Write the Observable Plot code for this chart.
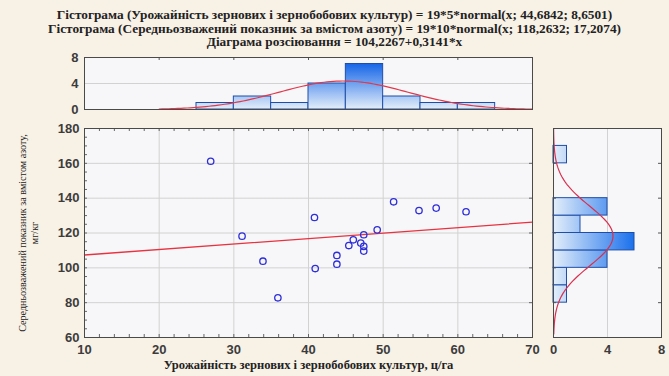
<!DOCTYPE html>
<html><head><meta charset="utf-8">
<script src="https://cdn.jsdelivr.net/npm/d3@7"></script>
<script src="https://cdn.jsdelivr.net/npm/@observablehq/plot@0.6"></script>
<style>
html,body{margin:0;padding:0;background:#f8f1e6;}
#root{position:relative;width:669px;height:376px;overflow:hidden;background:#f8f1e6;}
.t{position:absolute;left:0;width:669px;text-align:center;font-family:"Liberation Serif",serif;font-weight:bold;color:#222;white-space:nowrap;}
.p{position:absolute;}
.p svg{background:transparent;}
</style></head><body><div id="root"></div>
<script>
// ---- text ----
const titleLines = [
  "Гістограма (Урожайність зернових і зернобобових культур) = 19*5*normal(x; 44,6842; 8,6501)",
  "Гістограма (Середньозважений показник за вмістом азоту) = 19*10*normal(x; 118,2632; 17,2074)",
  "Діаграма розсіювання = 104,2267+0,3141*x"
];
const xLabel = "Урожайність зернових і зернобобових культур, ц/га";
const yLabelLines = ["Середньозважений показник за вмістом азоту,", "мг/кг"];

// ---- scatter data ----
const yieldX    = [26.9, 31.1, 33.9, 35.9, 40.8, 40.9, 43.8, 43.8, 45.4, 46.0, 47.0, 47.4, 47.4, 47.4, 49.2, 51.4, 54.8, 57.1, 61.1];
const nitrogenY = [161.2, 118.2, 103.8, 82.8, 128.9, 99.6, 107.1, 102.1, 112.8, 116.1, 114.2, 119.0, 112.3, 109.6, 121.8, 137.9, 132.9, 134.3, 132.2];

// ---- histogram of yield ----
const yieldBinLo  = [25, 30, 35, 40, 45, 50, 55, 60];
const yieldBinHi  = [30, 35, 40, 45, 50, 55, 60, 65];
const yieldCounts = [1, 2, 1, 4, 7, 2, 1, 1];

// ---- histogram of nitrogen ----
const nitroBinLo  = [80, 90, 100, 110, 120, 130, 160];
const nitroBinHi  = [90, 100, 110, 120, 130, 140, 170];
const nitroCounts = [1, 1, 4, 6, 2, 4, 1];

// ---- fitted parameters (from titles) ----
const yieldNormal = {n: 19, w: 5, mu: 44.6842, sd: 8.6501, from: 20, to: 70};
const nitroNormal = {n: 19, w: 10, mu: 118.2632, sd: 17.2074, from: 62, to: 180};
const regression = {a: 104.2267, b: 0.3141};

// ---- ticks ----
const xTicks = [10, 20, 30, 40, 50, 60, 70];
const yTicks = [60, 80, 100, 120, 140, 160, 180];
const countTicks = [0, 4, 8];

function normalCurve(p) {
  const pts = [];
  for (let v = p.from; v <= p.to + 1e-9; v += (p.to - p.from) / 120) {
    const z = (v - p.mu) / p.sd;
    pts.push({v, d: p.n * p.w * Math.exp(-0.5 * z * z) / (p.sd * Math.sqrt(2 * Math.PI))});
  }
  return pts;
}

const ctx = document.createElement("canvas").getContext("2d");
function fitSize(text, weight, family, target) {
  ctx.font = `${weight} 100px ${family}`;
  return 100 * target / ctx.measureText(text).width;
}
const serif = '"Liberation Serif", serif';
const titleSize = fitSize(titleLines[0], "bold", serif, 556);
const xLabelSize = fitSize(xLabel, "bold", serif, 290);
const yLabelSize = fitSize(yLabelLines[0], "normal", serif, 198);

const root = document.getElementById("root");
const titleCenters = [15, 28.5, 42];
titleLines.forEach((t, i) => {
  const d = document.createElement("div");
  d.className = "t";
  d.style.fontSize = titleSize + "px";
  d.style.lineHeight = titleSize + "px";
  d.style.top = (titleCenters[i] - titleSize / 2) + "px";
  d.textContent = t;
  root.appendChild(d);
});

function place(svg, left, top) {
  const w = document.createElement("div");
  w.className = "p"; w.style.left = left + "px"; w.style.top = top + "px";
  w.appendChild(svg); root.appendChild(w);
}
function addGrad(svg, id, x1, y1, x2, y2, c1, c2) {
  const defs = d3.select(svg).insert("defs", ":first-child");
  const g = defs.append("linearGradient").attr("id", id).attr("gradientUnits", "userSpaceOnUse")
    .attr("x1", x1).attr("y1", y1).attr("x2", x2).attr("y2", y2);
  g.append("stop").attr("offset", 0).attr("stop-color", c1);
  g.append("stop").attr("offset", 1).attr("stop-color", c2);
}

const frameFill = "#f7f7f9", frameStroke = "#4a4a4a", gridColor = "#d2d2d2";
const tickFont = {fontFamily: "Liberation Sans, Arial, sans-serif", fontSize: "13px", fontWeight: "bold", color: "#3c3c3c", background: "transparent"};
const barStroke = "#1e4ea8", curveColor = "#e0394c";

// ===== scatter =====
const pts = yieldX.map((x, i) => ({x, y: nitrogenY[i]}));
const minorX = d3.range(xTicks[0], xTicks[xTicks.length - 1] + 0.01, 2);
const minorY = d3.range(yTicks[0], yTicks[yTicks.length - 1] + 0.01, 5);
const scatter = Plot.plot({
  width: 540, height: 256, marginLeft: 84, marginRight: 8, marginTop: 8, marginBottom: 39,
  style: tickFont,
  x: {domain: [10, 70]}, y: {domain: [60, 180]},
  marks: [
    Plot.frame({fill: frameFill}),
    Plot.gridX(xTicks.slice(1, -1), {stroke: gridColor, strokeOpacity: 1}),
    Plot.gridY(yTicks.slice(1, -1), {stroke: gridColor, strokeOpacity: 1}),
    Plot.tickX(minorX, {x: d => d, insetTop: 206, stroke: "#666"}),
    Plot.tickX(minorX, {x: d => d, insetBottom: 206, stroke: "#666"}),
    Plot.tickY(minorY, {y: d => d, insetRight: 445, stroke: "#666"}),
    Plot.tickY(yTicks, {y: d => d, insetLeft: 445, stroke: "#666"}),
    Plot.axisX({ticks: xTicks, tickSize: 0, tickPadding: 7, label: null}),
    Plot.axisY({ticks: yTicks, tickSize: 0, tickPadding: 5, label: null}),
    Plot.line([xTicks[0], xTicks[xTicks.length - 1]].map(x => ({x, y: regression.a + regression.b * x})),
      {x: "x", y: "y", stroke: "#e8323f", strokeWidth: 1.3}),
    Plot.dot(pts, {x: "x", y: "y", r: 3.2, stroke: "#2e2ed8", strokeWidth: 1.3, fill: "none"}),
    Plot.frame({stroke: frameStroke}),
    Plot.text([xLabel], {text: d => d, frameAnchor: "bottom", textAnchor: "middle", dy: 31, fontFamily: serif, fontWeight: "bold", fontSize: xLabelSize, fill: "#222"}),
    Plot.text([yLabelLines.join("\n")], {text: d => d, frameAnchor: "left", textAnchor: "middle", dx: -56, rotate: -90, lineHeight: 1.15, fontFamily: serif, fontWeight: "normal", fontSize: yLabelSize, fill: "#222"})
  ]
});
place(scatter, 0, 120);

// ===== top histogram =====
const yieldBins = yieldBinLo.map((lo, i) => ({lo, hi: yieldBinHi[i], n: yieldCounts[i]}));
const topHist = Plot.plot({
  width: 540, height: 70, marginLeft: 84, marginRight: 8, marginTop: 10, marginBottom: 8,
  style: tickFont,
  x: {domain: [10, 70], axis: null}, y: {domain: [0, 8]},
  marks: [
    Plot.frame({fill: frameFill}),
    Plot.gridY([4], {stroke: gridColor, strokeOpacity: 1}),
    Plot.axisY({ticks: countTicks, tickSize: 0, tickPadding: 6, label: null}),
    Plot.rectY(yieldBins, {x1: "lo", x2: "hi", y: "n", fill: "url(#gradTop)", stroke: barStroke, strokeWidth: 1}),
    Plot.line(normalCurve(yieldNormal), {x: "v", y: "d", stroke: curveColor, strokeWidth: 1.2}),
    Plot.tickX(xTicks.slice(1, -1), {x: d => d, insetBottom: 49, stroke: "#555"}),
    Plot.frame({stroke: frameStroke})
  ]
});
addGrad(topHist, "gradTop", 0, 12, 0, 62, "#0058e6", "#e3eefa");
place(topHist, 0, 47);

// ===== right histogram =====
const nitroBins = nitroBinLo.map((lo, i) => ({lo, hi: nitroBinHi[i], n: nitroCounts[i]}));
const rightHist = Plot.plot({
  width: 169, height: 256, marginLeft: 53, marginRight: 8, marginTop: 8, marginBottom: 39,
  style: tickFont,
  x: {domain: [0, 8]}, y: {domain: [60, 180], axis: null},
  marks: [
    Plot.frame({fill: frameFill}),
    Plot.gridX([4], {stroke: gridColor, strokeOpacity: 1}),
    Plot.axisX({ticks: countTicks, tickSize: 0, tickPadding: 7, label: null}),
    Plot.rectX(nitroBins, {y1: "lo", y2: "hi", x: "n", fill: "url(#gradRight)", stroke: barStroke, strokeWidth: 1}),
    Plot.line(normalCurve(nitroNormal), {x: "d", y: "v", stroke: "#d8304e", strokeWidth: 1.2}),
    Plot.tickY(yTicks.slice(1, -1), {y: d => d, insetLeft: 105, stroke: "#555"}),
    Plot.tickY(yTicks.slice(1, -1), {y: d => d, insetRight: 105, stroke: "#555"}),
    Plot.frame({stroke: frameStroke})
  ]
});
addGrad(rightHist, "gradRight", 53, 0, 145, 0, "#e3eefa", "#0060ea");
place(rightHist, 500, 120);
</script></body></html>
